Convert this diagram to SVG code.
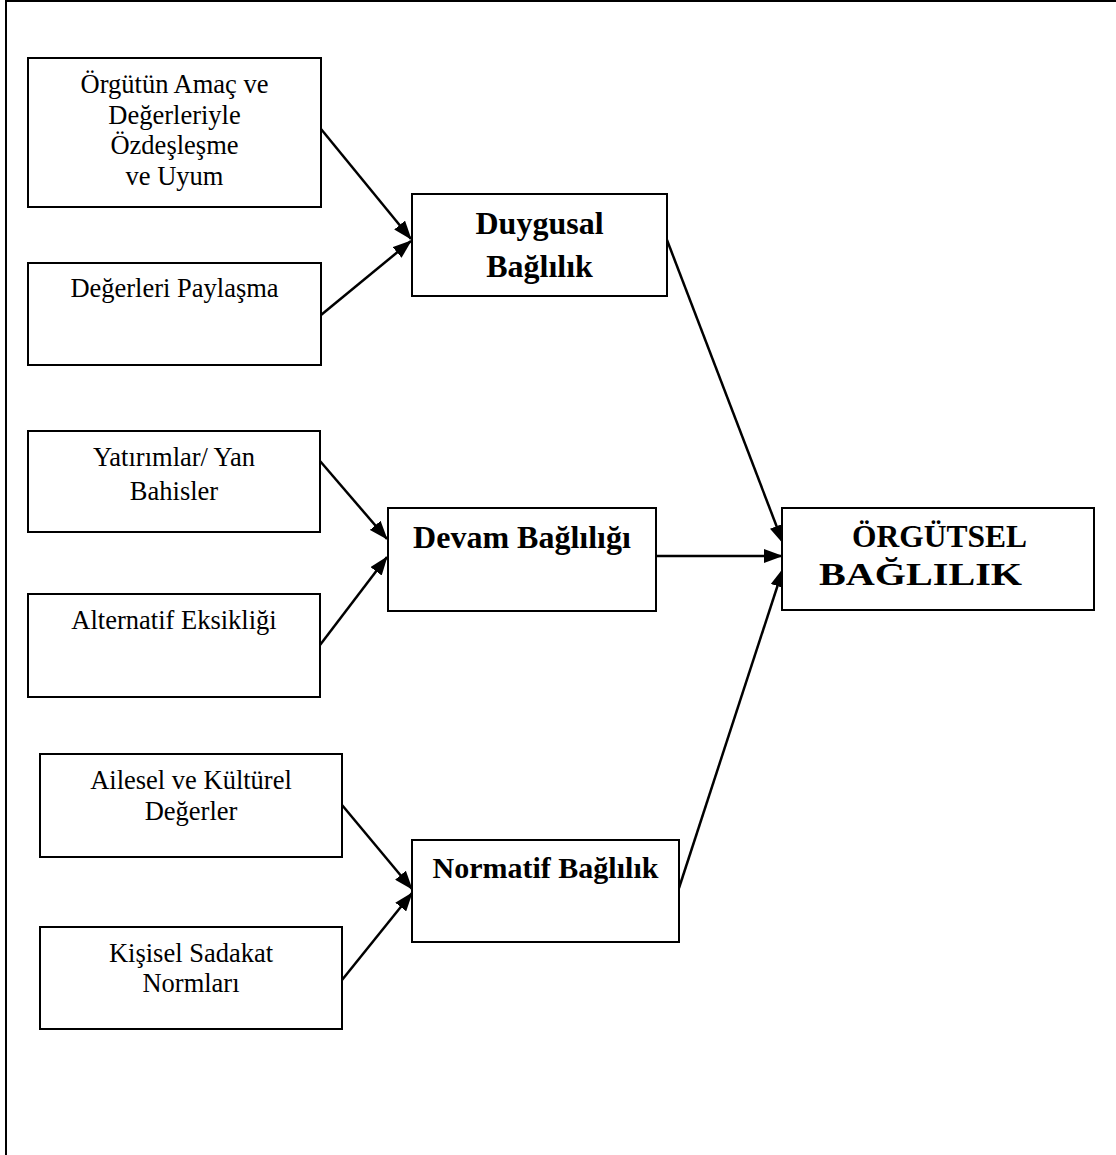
<svg xmlns="http://www.w3.org/2000/svg" width="1116" height="1155" viewBox="0 0 1116 1155">
  <style>
    .box { fill: #ffffff; stroke: #000000; stroke-width: 2; }
    .lbl { font-family: "Liberation Serif", "Times New Roman", serif; font-size: 26.5px; fill: #000000; text-anchor: middle; }
    .hd { font-family: "Liberation Serif", "Times New Roman", serif; font-size: 32px; font-weight: bold; fill: #000000; text-anchor: middle; }
    .main { font-family: "Liberation Serif", "Times New Roman", serif; font-size: 32px; font-weight: bold; fill: #000000; }
    .edge { stroke: #000000; stroke-width: 2.5; fill: none; marker-end: url(#arrow); }
    .frame { stroke: #000000; stroke-width: 2; }
  </style>
  <defs>
    <marker id="arrow" markerUnits="userSpaceOnUse" markerWidth="19" markerHeight="14" refX="18" refY="7" orient="auto">
      <path d="M0,0 L19,7 L0,14 Z" fill="#000000"/>
    </marker>
  </defs>

  <rect x="0" y="0" width="1116" height="1155" fill="#ffffff"/>

  <!-- page frame (top and left edges) -->
  <g id="frame">
    <line class="frame" x1="5" y1="1" x2="1116" y2="1"/>
    <line class="frame" x1="6" y1="0" x2="6" y2="1155"/>
  </g>

  <!-- connectors -->
  <g id="connectors">
    <line class="edge" x1="321" y1="129" x2="411" y2="239"/>
    <line class="edge" x1="321" y1="315" x2="411" y2="241"/>
    <line class="edge" x1="667" y1="240" x2="783" y2="543"/>
    <line class="edge" x1="320" y1="461" x2="387" y2="539"/>
    <line class="edge" x1="320" y1="645" x2="387" y2="557"/>
    <line class="edge" x1="656" y1="556" x2="782" y2="556"/>
    <line class="edge" x1="342" y1="805" x2="412" y2="889"/>
    <line class="edge" x1="342" y1="980" x2="412" y2="893"/>
    <line class="edge" x1="679" y1="888" x2="783" y2="569"/>
  </g>

  <!-- affective commitment antecedents -->
  <g id="n-orgut-amac">
    <rect class="box" x="28" y="58" width="293" height="149"/>
    <text class="lbl" x="174.5" y="93">Örgütün Amaç ve</text>
    <text class="lbl" x="174.5" y="124">Değerleriyle</text>
    <text class="lbl" x="174.5" y="154">Özdeşleşme</text>
    <text class="lbl" x="174.5" y="185">ve Uyum</text>
  </g>
  <g id="n-degerleri-paylasma">
    <rect class="box" x="28" y="263" width="293" height="102"/>
    <text class="lbl" x="174.5" y="297">Değerleri Paylaşma</text>
  </g>
  <g id="n-duygusal">
    <rect class="box" x="412" y="194" width="255" height="102"/>
    <text class="hd" x="539.5" y="234">Duygusal</text>
    <text class="hd" x="539.5" y="277">Bağlılık</text>
  </g>

  <!-- continuance commitment antecedents -->
  <g id="n-yatirimlar">
    <rect class="box" x="28" y="431" width="292" height="101"/>
    <text class="lbl" x="174" y="466">Yatırımlar/ Yan</text>
    <text class="lbl" x="174" y="500">Bahisler</text>
  </g>
  <g id="n-alternatif">
    <rect class="box" x="28" y="594" width="292" height="103"/>
    <text class="lbl" x="174" y="629">Alternatif Eksikliği</text>
  </g>
  <g id="n-devam">
    <rect class="box" x="388" y="508" width="268" height="103"/>
    <text class="hd" x="522" y="548">Devam Bağlılığı</text>
  </g>

  <!-- normative commitment antecedents -->
  <g id="n-ailesel">
    <rect class="box" x="40" y="754" width="302" height="103"/>
    <text class="lbl" x="191" y="789">Ailesel ve Kültürel</text>
    <text class="lbl" x="191" y="820">Değerler</text>
  </g>
  <g id="n-kisisel">
    <rect class="box" x="40" y="927" width="302" height="102"/>
    <text class="lbl" x="191" y="962">Kişisel Sadakat</text>
    <text class="lbl" x="191" y="992">Normları</text>
  </g>
  <g id="n-normatif">
    <rect class="box" x="412" y="840" width="267" height="102"/>
    <text class="hd" x="545.5" y="878" style="font-size:30px">Normatif Bağlılık</text>
  </g>

  <!-- outcome -->
  <g id="n-orgutsel">
    <rect class="box" x="782" y="508" width="312" height="102"/>
    <text class="main" x="852" y="547" textLength="175" lengthAdjust="spacingAndGlyphs">ÖRGÜTSEL</text>
    <text class="main" x="819" y="585" textLength="203" lengthAdjust="spacingAndGlyphs">BAĞLILIK</text>
  </g>
</svg>
